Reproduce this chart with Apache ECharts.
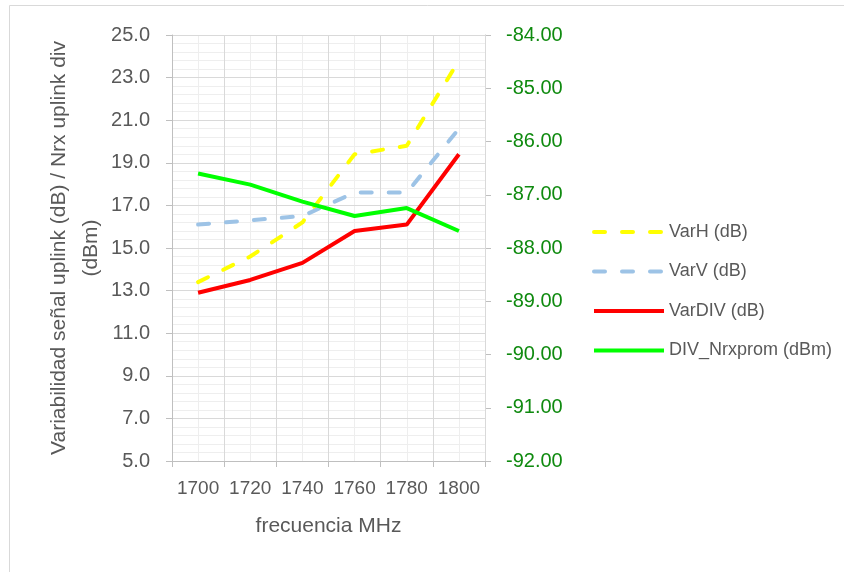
<!DOCTYPE html>
<html>
<head>
<meta charset="utf-8">
<title>Variabilidad señal uplink</title>
<script src="https://cdn.jsdelivr.net/npm/echarts@6/dist/echarts.min.js"></script>
<style>
    html, body { margin: 0; padding: 0; background: #fff; }
    #chart { width: 844px; height: 572px; }
</style>
</head>
<body>
<div id="chart"></div>
<script>
// categorias del eje x (MHz)
var categories = ['1700', '1720', '1740', '1760', '1780', '1800'];
// series en dB (eje izquierdo)
var varH = [13.4, 14.6, 16.2, 19.4, 19.8, 23.8];
var varV = [16.1, 16.3, 16.5, 17.6, 17.6, 20.6];
var varDIV = [12.9, 13.5, 14.3, 15.8, 16.1, 19.4];
// serie en dBm (eje derecho)
var nrxProm = [-86.6, -86.81, -87.13, -87.4, -87.25, -87.68];

var font = "'Liberation Sans', Arial, sans-serif";
var grey = '#595959';

function lineSerie(name, data, color, dashed, yIdx) {
    return {
        name: name,
        type: 'line',
        data: data,
        yAxisIndex: yIdx || 0,
        symbol: 'none',
        smooth: false,
        z: 3,
        lineStyle: {
            color: color,
            width: 4,
            type: dashed ? [11, 17] : 'solid',
            cap: dashed ? 'round' : 'butt'
        },
        itemStyle: { color: color }
    };
}

var myChart = echarts.init(document.getElementById('chart'), null, { renderer: 'canvas' });

var option = {
    backgroundColor: '#fff',
    animation: false,
    graphic: [{
        type: 'rect',
        shape: { x: 9.5, y: 5.5, width: 900, height: 700 },
        style: { fill: 'none', stroke: '#d9d9d9', lineWidth: 1 },
        silent: true
    }],
    grid: { left: 172, right: 359, top: 35, bottom: 111 },
    legend: {
        orient: 'vertical',
        left: 587,
        top: 215,
        itemWidth: 70,
        itemHeight: 4,
        itemGap: 15.5,
        // sin simbolo, solo la linea
        itemStyle: { opacity: 0 },
        lineStyle: { width: 4 },
        textStyle: { fontFamily: font, fontSize: 18, color: grey, lineHeight: 24 },
        data: ['VarH (dB)', 'VarV (dB)', 'VarDIV (dB)', 'DIV_Nrxprom (dBm)']
    },
    xAxis: [{
        type: 'category',
        data: categories,
        boundaryGap: true,
        z: 1,
        name: 'frecuencia MHz',
        nameLocation: 'middle',
        nameGap: 55,
        nameTextStyle: { fontFamily: font, fontSize: 21, color: grey },
        axisLine: { lineStyle: { color: '#bfbfbf', width: 1 } },
        axisTick: { show: true, length: 6, lineStyle: { color: '#bfbfbf' } },
        axisLabel: { interval: 0, fontFamily: font, fontSize: 19, color: grey, margin: 18 },
        splitLine: { show: true, lineStyle: { color: '#d9d9d9', width: 1 } }
    }, {
        // lineas menores verticales en el centro de cada categoria
        type: 'value',
        min: 0,
        max: 12,
        interval: 1,
        z: 0,
        position: 'bottom',
        axisLine: { show: false },
        axisTick: { show: false },
        axisLabel: { show: false },
        splitLine: { show: true, lineStyle: { color: '#eeeeee', width: 1 } }
    }],
    yAxis: [{
        type: 'value',
        min: 5,
        max: 25,
        interval: 2,
        z: 1,
        name: 'Variabilidad señal uplink (dB) / Nrx uplink div\n(dBm)',
        nameLocation: 'middle',
        nameGap: 64,
        nameTextStyle: { fontFamily: font, fontSize: 21, color: grey, lineHeight: 32 },
        axisLine: { show: true, lineStyle: { color: '#bfbfbf' } },
        axisTick: { show: true, length: 6, lineStyle: { color: '#bfbfbf' } },
        axisLabel: {
            fontFamily: font, fontSize: 20, color: grey, margin: 22,
            formatter: function (v) { return v.toFixed(1); }
        },
        splitLine: { show: true, lineStyle: { color: '#d9d9d9' } },
        minorTick: { show: false, splitNumber: 5 },
        minorSplitLine: { show: true, lineStyle: { color: '#eeeeee' } }
    }, {
        type: 'value',
        min: -92,
        max: -84,
        interval: 1,
        position: 'right',
        axisLine: { show: true, lineStyle: { color: '#bfbfbf' } },
        axisTick: { show: true, length: 6, lineStyle: { color: '#bfbfbf' } },
        axisLabel: {
            fontFamily: font, fontSize: 20, color: '#0f8a0f', margin: 21,
            formatter: function (v) { return v.toFixed(2); }
        },
        splitLine: { show: false }
    }],
    series: [
        lineSerie('VarH (dB)', varH, '#ffff00', true),
        lineSerie('VarV (dB)', varV, '#9dc3e6', true),
        lineSerie('VarDIV (dB)', varDIV, '#ff0000', false),
        lineSerie('DIV_Nrxprom (dBm)', nrxProm, '#00ff00', false, 1)
    ]
};

myChart.setOption(option);
</script>
</body>
</html>
